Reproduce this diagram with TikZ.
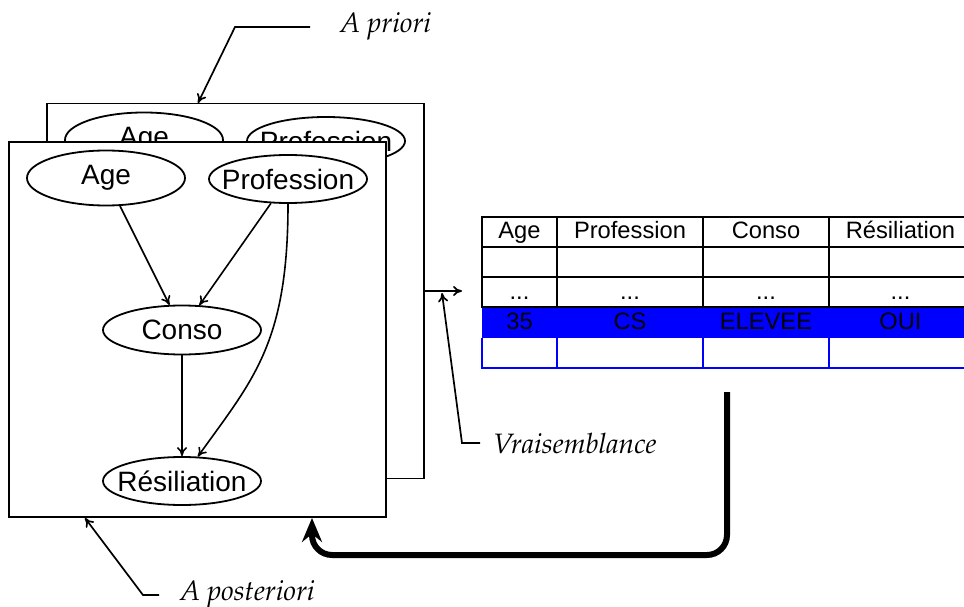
\documentclass[tikz,border=0pt]{standalone}
\usepackage[T1,TU]{fontenc}
\usepackage{fontspec}
\setmainfont{Liberation Sans}
\usetikzlibrary{arrows.meta,shapes.geometric}
\newcommand\palit{\fontencoding{T1}\fontfamily{ppl}\fontseries{m}\fontshape{it}\selectfont}
\newcommand\vt[1]{\makebox[0pt]{#1}}
\begin{document}
\begin{tikzpicture}[x=1pt,y=-1pt,
  box/.style={draw, fill=white, line width=1.9pt, minimum width=377pt, minimum height=375pt, inner sep=0pt},
  var/.style={draw, ellipse, fill=white, line width=1.8pt, minimum width=158pt, minimum height=48pt, inner sep=0pt, font=\fontsize{28}{30}\selectfont},
  edgearrow/.style={line width=1.6pt, -{To[length=9pt,width=10pt]}},
  lead/.style={line width=1.7pt, -{To[length=9pt,width=10pt]}},
  lbl/.style={inner sep=0pt, anchor=base west, font=\fontsize{28}{30}\palit},
  cell/.style={anchor=base, inner sep=0pt, font=\fontsize{23.7}{26}\selectfont},
  retarrow/.style={line width=6pt, rounded corners=20pt, -{Stealth[length=24pt,width=20pt,inset=8pt]}}
]
\useasboundingbox (0,0) rectangle (964,607);

% back (a priori) network
\node[box] (prior) at (235.5,291) {};
\node[var, minimum height=55pt] (bage) at (144,140) {\vt{Age}};
\node[var] (bprof) at (326,141) {\vt{Profession}};

% front (a posteriori) network
\node[box] (post) at (197.5,329.5) {};
\node[var, minimum height=55pt] (age) at (106,178) {\vt{Age}};
\node[var] (prof) at (288,179) {\vt{Profession}};
\node[var, minimum height=49pt] (conso) at (182,330) {\vt{Conso}};
\node[var] (res) at (182,481) {\vt{Résiliation}};

\draw[edgearrow] (age) -- (conso);
\draw[edgearrow] (prof) -- (conso);
\draw[edgearrow] (conso) -- (res);
\draw[edgearrow] (prof.south) .. controls +(0,140) and +(55,-77) .. (res.57);

% table
\fill[blue] (482,307) rectangle (972,338);
\begin{scope}[line width=2.4pt]
  \foreach \yy in {217,247,277,307} \draw (481,\yy) -- (972,\yy);
  \foreach \xx in {482,557,703,829} \draw (\xx,216) -- (\xx,307);
\end{scope}
\begin{scope}[line width=2.4pt, draw=blue]
  \draw (481,368) -- (972,368);
  \foreach \xx in {482,557,703,829} \draw (\xx,338) -- (\xx,369);
\end{scope}
\node[cell] (h1) at (519.5,238) {Age};
\node[cell] (h2) at (630,238) {Profession};
\node[cell] (h3) at (766,238) {Conso};
\node[cell] (h4) at (900.5,238) {Résiliation};
\node[cell] (d1) at (519.5,299) {...};
\node[cell] (d2) at (630,299) {...};
\node[cell] (d3) at (766,299) {...};
\node[cell] (d4) at (900.5,299) {...};
\node[cell] (b1) at (519.5,329) {35};
\node[cell] (b2) at (630,329) {CS};
\node[cell] (b3) at (766,329) {ELEVEE};
\node[cell] (b4) at (900.5,329) {OUI};

% labels
\node[lbl] (apriori) at (340,33) {A priori};
\node[lbl] (vrais) at (493,453) {Vraisemblance};
\node[lbl] (apost) at (180,600) {A posteriori};

\coordinate (ptip) at (198,103);
\coordinate (tabin) at (462,291);
\coordinate (vtip) at (442,293);
\coordinate (atip) at (85,518);
\coordinate (retstart) at (727,392);
\coordinate (retcorner) at (312,555);

\draw[lead] ([shift={(-30pt,6pt)}]apriori.base west) -- ++(-75pt,0pt) -- (ptip);
\draw[lead] (prior.east) -- (tabin);
\draw[lead] ([shift={(-13pt,10pt)}]vrais.base west) -- ++(-18pt,0pt) -- (vtip);
\draw[lead] ([shift={(-21pt,5pt)}]apost.base west) -- ++(-16pt,0pt) -- (atip);

\draw[retarrow] (retstart) |- (retcorner) -- (retcorner |- post.south);
\end{tikzpicture}
\end{document}
